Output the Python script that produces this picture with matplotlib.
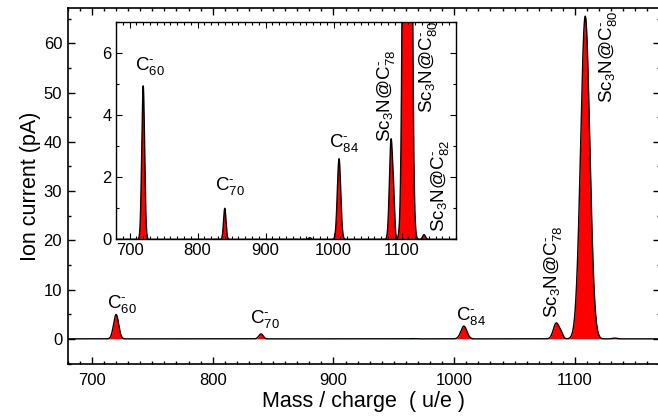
import numpy as np
import matplotlib
matplotlib.use("Agg")
import matplotlib.pyplot as plt
from matplotlib.ticker import MultipleLocator

plt.rcParams['font.family'] = ['Liberation Sans', 'DejaVu Sans']
plt.rcParams['mathtext.fontset'] = 'custom'
plt.rcParams['mathtext.rm'] = 'Liberation Sans'
plt.rcParams['mathtext.it'] = 'Liberation Sans:italic'
plt.rcParams['mathtext.bf'] = 'Liberation Sans:bold'

# Peak list of the negative-ion mass spectrum: centre (u/e), height (pA), width (sigma, u/e)
peak_centers = [720.0, 840.0, 965.0, 1008.0, 1084.5, 1088.5, 1108.5, 1133.0]
peak_heights = [4.95, 1.0, 0.05, 2.6, 3.2, 0.9, 65.5, 0.15]
peak_widths = [2.1, 1.8, 2.0, 2.5, 2.4, 1.6, 3.8, 2.0]

mass = np.linspace(680, 1180, 6001)
current = np.zeros_like(mass)
for c, h, w in zip(peak_centers, peak_heights, peak_widths):
    current += h * np.exp(-0.5 * ((mass - c) / w) ** 2)


def ion(formula, n):
    return r'$\mathregular{%s_{%s}^{\text{-}}}$' % (formula, n)


fig = plt.figure(figsize=(6.58, 4.18), dpi=100)
ax = fig.add_axes([67.8 / 658, 1 - 363.5 / 418, (659.5 - 67.8) / 658, (363.5 - 8.3) / 418])

ax.fill_between(mass, current, 0, color='#ff0000', lw=0)
ax.plot(mass, current, color='black', lw=1.0)
ax.set_xlim(680, 1170)
ax.set_ylim(-5, 67.1)
ax.xaxis.set_major_locator(MultipleLocator(100))
ax.xaxis.set_minor_locator(MultipleLocator(10))
ax.yaxis.set_major_locator(MultipleLocator(10))
ax.yaxis.set_minor_locator(MultipleLocator(5))
ax.tick_params(which='both', direction='in', top=True, right=True, width=1.0)
ax.tick_params(which='major', length=5, labelsize=12, pad=7)
ax.tick_params(which='minor', length=2.5)
ax.tick_params(axis='y', which='major', pad=4)
ax.tick_params(top=True, labeltop=False, right=True, labelright=False)
for s in ax.spines.values():
    s.set_linewidth(1.2)
ax.set_xlabel('Mass / charge  ( u/e )', fontsize=15.5, labelpad=2)
ax.set_ylabel('Ion current (pA)', fontsize=15.5, labelpad=2)

lab_fs = 13.5
ax.text(725, 4.9, ion('C', '60'), fontsize=lab_fs, ha='center', va='bottom')
ax.text(843, 1.8, ion('C', '70'), fontsize=lab_fs, ha='center', va='bottom')
ax.text(1014, 2.5, ion('C', '84'), fontsize=lab_fs, ha='center', va='bottom')
ax.text(1082, 4.2, ion('Sc_3N@C', '78'), fontsize=lab_fs, ha='center', va='bottom', rotation=90)
ax.text(1127.5, 47.9, ion('Sc_3N@C', '80'), fontsize=lab_fs, ha='center', va='bottom', rotation=90)

# Zoomed view of the low-intensity region
ins = fig.add_axes([116 / 658, 1 - 239.3 / 418, (456 - 116) / 658, (239.3 - 22.3) / 418])
ins.fill_between(mass, current, 0, color='#ff0000', lw=0)
ins.plot(mass, current, color='black', lw=1.0)
ins.set_xlim(680, 1180)
ins.set_ylim(0, 7)
ins.xaxis.set_major_locator(MultipleLocator(100))
ins.xaxis.set_minor_locator(MultipleLocator(10))
ins.yaxis.set_major_locator(MultipleLocator(2))
ins.yaxis.set_minor_locator(MultipleLocator(1))
ins.tick_params(which='both', direction='in', top=True, right=True, width=0.8)
ins.tick_params(which='major', length=4, labelsize=12, pad=3)
ins.tick_params(which='minor', length=2)
for s in ins.spines.values():
    s.set_linewidth(1.0)

ins.text(730.5, 5.25, ion('C', '60'), fontsize=lab_fs, ha='center', va='bottom')
ins.text(848, 1.37, ion('C', '70'), fontsize=lab_fs, ha='center', va='bottom')
ins.text(1015.5, 2.75, ion('C', '84'), fontsize=lab_fs, ha='center', va='bottom')
ins.text(1077, 3.15, ion('Sc_3N@C', '78'), fontsize=lab_fs, ha='center', va='bottom', rotation=90)
ins.text(1139, 4.06, ion('Sc_3N@C', '80'), fontsize=lab_fs, ha='center', va='bottom', rotation=90)
ins.text(1156.5, 0.25, ion('Sc_3N@C', '82'), fontsize=lab_fs, ha='center', va='bottom', rotation=90)

fig.savefig('out.png', dpi=100)
